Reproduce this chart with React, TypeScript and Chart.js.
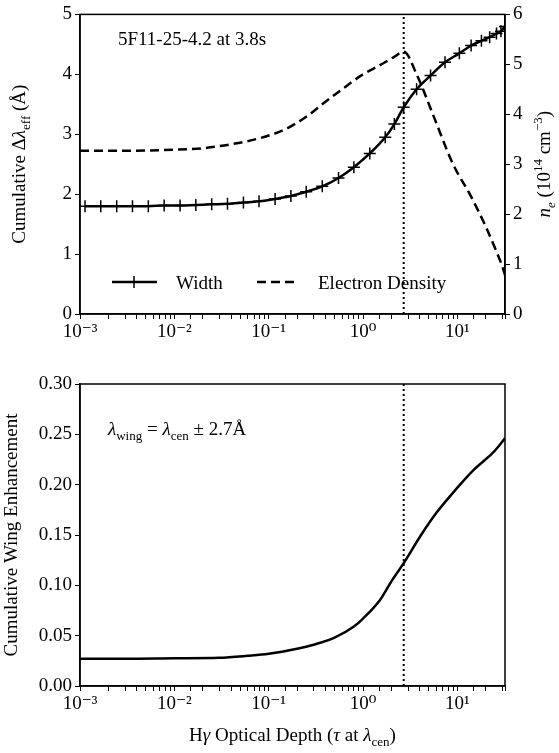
import { useEffect, useRef } from "react";
import Chart from "chart.js/auto";

// optical depth (tau) grid for the width markers
const widthTau = [0.00113, 0.00166, 0.00245, 0.0036, 0.0053, 0.0078, 0.0115, 0.0169, 0.0249, 0.0366, 0.054, 0.079, 0.117, 0.172, 0.25, 0.37, 0.55, 0.8, 1.18, 1.72, 2.15, 2.7, 3.7, 5.2, 7.4, 10.5, 14, 18, 22, 26, 29, 32];
const widthVals = [1.8, 1.8, 1.8, 1.8, 1.8, 1.81, 1.81, 1.82, 1.83, 1.84, 1.86, 1.88, 1.92, 1.97, 2.04, 2.13, 2.27, 2.45, 2.68, 2.95, 3.17, 3.45, 3.75, 3.98, 4.2, 4.35, 4.48, 4.56, 4.62, 4.68, 4.72, 4.8];

const neTau = [0.001, 0.003, 0.01, 0.02, 0.04, 0.08, 0.15, 0.25, 0.4, 0.6, 1.0, 1.5, 2.1, 2.7, 3.8, 5.5, 9, 14, 20, 26, 30, 32];
const neVals = [3.27, 3.27, 3.29, 3.32, 3.4, 3.52, 3.7, 3.95, 4.25, 4.5, 4.8, 4.98, 5.14, 5.25, 4.75, 4.0, 3.0, 2.35, 1.75, 1.25, 0.95, 0.78];

const wingTau = [0.001, 0.003, 0.01, 0.03, 0.06, 0.1, 0.2, 0.3, 0.5, 0.8, 1.0, 1.5, 2.0, 2.7, 4, 6, 10, 15, 24, 32];
const wingVals = [0.027, 0.027, 0.0275, 0.028, 0.03, 0.032, 0.037, 0.041, 0.048, 0.059, 0.067, 0.085, 0.104, 0.122, 0.148, 0.172, 0.197, 0.215, 0.232, 0.246];

const tauMarker = 2.7;
const xMin = 0.001;
const xMax = 32;

const FONT = "'Liberation Serif', 'DejaVu Serif', serif";
const SIZE = 19;

type Part = [string, "n" | "sub" | "sup", boolean?];

function drawRich(ctx: CanvasRenderingContext2D, parts: Part[], x: number, y: number, rotate = false, center = true) {
  ctx.save();
  ctx.translate(x, y);
  if (rotate) ctx.rotate(-Math.PI / 2);
  const fontFor = (p: Part) => `${p[2] ? "italic " : ""}${p[1] === "n" ? SIZE : 13}px ${FONT}`;
  let w = 0;
  for (const p of parts) { ctx.font = fontFor(p); w += ctx.measureText(p[0]).width; }
  let cx = center ? -w / 2 : 0;
  ctx.fillStyle = "#000";
  ctx.textBaseline = "alphabetic";
  ctx.textAlign = "left";
  for (const p of parts) {
    ctx.font = fontFor(p);
    const dy = p[1] === "sub" ? 5 : p[1] === "sup" ? -8 : 0;
    ctx.fillText(p[0], cx, dy);
    cx += ctx.measureText(p[0]).width;
  }
  ctx.restore();
}

const frame = {
  id: "frame",
  afterDatasetsDraw: (c: any) => {
    const a = c.chartArea;
    const ctx = c.ctx;
    ctx.save();
    ctx.strokeStyle = "#000";
    ctx.lineWidth = 1.5;
    ctx.strokeRect(a.left, a.top, a.right - a.left, a.bottom - a.top);
    ctx.restore();
  },
};

const sup: Record<string, string> = { "-": "⁻", "0": "⁰", "1": "¹", "2": "²", "3": "³" };
const logTick = (v: number | string) => {
  const n = Number(v);
  const e = Math.log10(n);
  if (Math.abs(e - Math.round(e)) > 1e-6) return "";
  return "10" + String(Math.round(e)).split("").map((c) => sup[c]).join("");
};

const tickFont = { family: FONT, size: SIZE };

const xAxis = (h: number) => ({
  type: "logarithmic" as const,
  min: xMin,
  max: xMax,
  grid: { drawOnChartArea: false, drawTicks: true, tickLength: 5, color: "#000" },
  border: { color: "#000", width: 1.5 },
  ticks: { color: "#000", font: tickFont, autoSkip: false, maxRotation: 0, callback: logTick, padding: 2 },
  afterFit: (s: any) => { s.height = h; },
});

function App() {
  const topRef = useRef<HTMLCanvasElement>(null);
  const botRef = useRef<HTMLCanvasElement>(null);

  useEffect(() => {
    document.body.style.margin = "0";
    if (!topRef.current || !botRef.current) return;

    const top = new Chart(topRef.current, {
      type: "line",
      data: {
        datasets: [
          {
            label: "Width",
            data: widthTau.map((t, i) => ({ x: t, y: widthVals[i] })),
            borderColor: "#000",
            borderWidth: 2.5,
            pointStyle: "cross",
            pointRadius: 6,
            pointBorderWidth: 1.5,
            pointBorderColor: "#000",
            cubicInterpolationMode: "monotone",
            yAxisID: "y",
          },
          {
            label: "Electron Density",
            data: neTau.map((t, i) => ({ x: t, y: neVals[i] })),
            borderColor: "#000",
            borderWidth: 2.5,
            borderDash: [9, 5],
            pointRadius: 0,
            cubicInterpolationMode: "monotone",
            yAxisID: "y1",
          },
          {
            label: "marker",
            data: [{ x: tauMarker, y: 0 }, { x: tauMarker, y: 5 }],
            borderColor: "#000",
            borderWidth: 2,
            borderDash: [2, 3],
            pointRadius: 0,
            yAxisID: "y",
          },
        ],
      },
      options: {
        animation: false,
        responsive: false,
        layout: { padding: { top: 14, left: 0, right: 0, bottom: 0 } },
        plugins: { legend: { display: false }, tooltip: { enabled: false } },
        scales: {
          x: xAxis(46),
          y: {
            min: 0, max: 5,
            grid: { drawOnChartArea: false, color: "#000", tickLength: 5 },
            border: { color: "#000", width: 1.5 },
            ticks: { stepSize: 1, color: "#000", font: tickFont },
            afterFit: (s: any) => { s.width = 80; },
          },
          y1: {
            position: "right",
            min: 0, max: 6,
            grid: { drawOnChartArea: false, color: "#000", tickLength: 5 },
            border: { color: "#000", width: 1.5 },
            ticks: { stepSize: 1, color: "#000", font: tickFont },
            afterFit: (s: any) => { s.width = 54; },
          },
        },
      },
      plugins: [
        frame,
        {
          id: "topText",
          afterDraw: (c) => {
            const ctx = c.ctx;
            const a = c.chartArea;
            drawRich(ctx, [["5F11-25-4.2 at 3.8s", "n"]], a.left + 38, a.top + 31, false, false);
            drawRich(ctx, [["Cumulative Δ", "n"], ["λ", "n", true], ["eff", "sub"], [" (Å)", "n"]], 25, (a.top + a.bottom) / 2, true);
            drawRich(ctx, [["n", "n", true], ["e", "sub", true], [" (10", "n"], ["14", "sup"], [" cm", "n"], ["−3", "sup"], [")", "n"]], 550, (a.top + a.bottom) / 2, true);
            // legend
            const ly = 282;
            ctx.save();
            ctx.strokeStyle = "#000";
            ctx.lineWidth = 2.5;
            ctx.beginPath(); ctx.moveTo(112, ly); ctx.lineTo(157, ly); ctx.stroke();
            ctx.lineWidth = 1.5;
            ctx.beginPath(); ctx.moveTo(134, ly - 6); ctx.lineTo(134, ly + 6); ctx.stroke();
            ctx.lineWidth = 2.5;
            ctx.setLineDash([9, 5]);
            ctx.beginPath(); ctx.moveTo(257, ly); ctx.lineTo(299, ly); ctx.stroke();
            ctx.restore();
            drawRich(ctx, [["Width", "n"]], 176, ly + 7, false, false);
            drawRich(ctx, [["Electron Density", "n"]], 318, ly + 7, false, false);
          },
        },
      ],
    });

    const bot = new Chart(botRef.current, {
      type: "line",
      data: {
        datasets: [
          {
            label: "Wing",
            data: wingTau.map((t, i) => ({ x: t, y: wingVals[i] })),
            borderColor: "#000",
            borderWidth: 2.5,
            pointRadius: 0,
            cubicInterpolationMode: "monotone",
          },
          {
            label: "marker",
            data: [{ x: tauMarker, y: 0 }, { x: tauMarker, y: 0.3 }],
            borderColor: "#000",
            borderWidth: 2,
            borderDash: [2, 3],
            pointRadius: 0,
          },
        ],
      },
      options: {
        animation: false,
        responsive: false,
        layout: { padding: { top: 24, left: 0, right: 54, bottom: 0 } },
        plugins: { legend: { display: false }, tooltip: { enabled: false } },
        scales: {
          x: xAxis(67),
          y: {
            min: 0, max: 0.3,
            grid: { drawOnChartArea: false, color: "#000", tickLength: 5 },
            border: { color: "#000", width: 1.5 },
            ticks: { stepSize: 0.05, color: "#000", font: tickFont, callback: (v) => Number(v).toFixed(2) },
            afterFit: (s: any) => { s.width = 80; },
          },
        },
      },
      plugins: [
        frame,
        {
          id: "botText",
          afterDraw: (c) => {
            const ctx = c.ctx;
            const a = c.chartArea;
            drawRich(ctx, [["λ", "n", true], ["wing", "sub"], [" = ", "n"], ["λ", "n", true], ["cen", "sub"], [" ± 2.7Å", "n"]], a.left + 28, a.top + 51, false, false);
            drawRich(ctx, [["Cumulative Wing Enhancement", "n"]], 17, (a.top + a.bottom) / 2, true);
            drawRich(ctx, [["H", "n"], ["γ", "n", true], [" Optical Depth (", "n"], ["τ", "n", true], [" at ", "n"], ["λ", "n", true], ["cen", "sub"], [")", "n"]], (a.left + a.right) / 2, 381);
          },
        },
      ],
    });

    return () => {
      top.destroy();
      bot.destroy();
    };
  }, []);

  return (
    <div style={{ width: 559, height: 753 }}>
      <canvas ref={topRef} width={559} height={360} style={{ display: "block" }} role="img" aria-label="Cumulative width and electron density vs optical depth" />
      <canvas ref={botRef} width={559} height={393} style={{ display: "block" }} role="img" aria-label="Cumulative wing enhancement vs optical depth" />
    </div>
  );
}

export default App;
